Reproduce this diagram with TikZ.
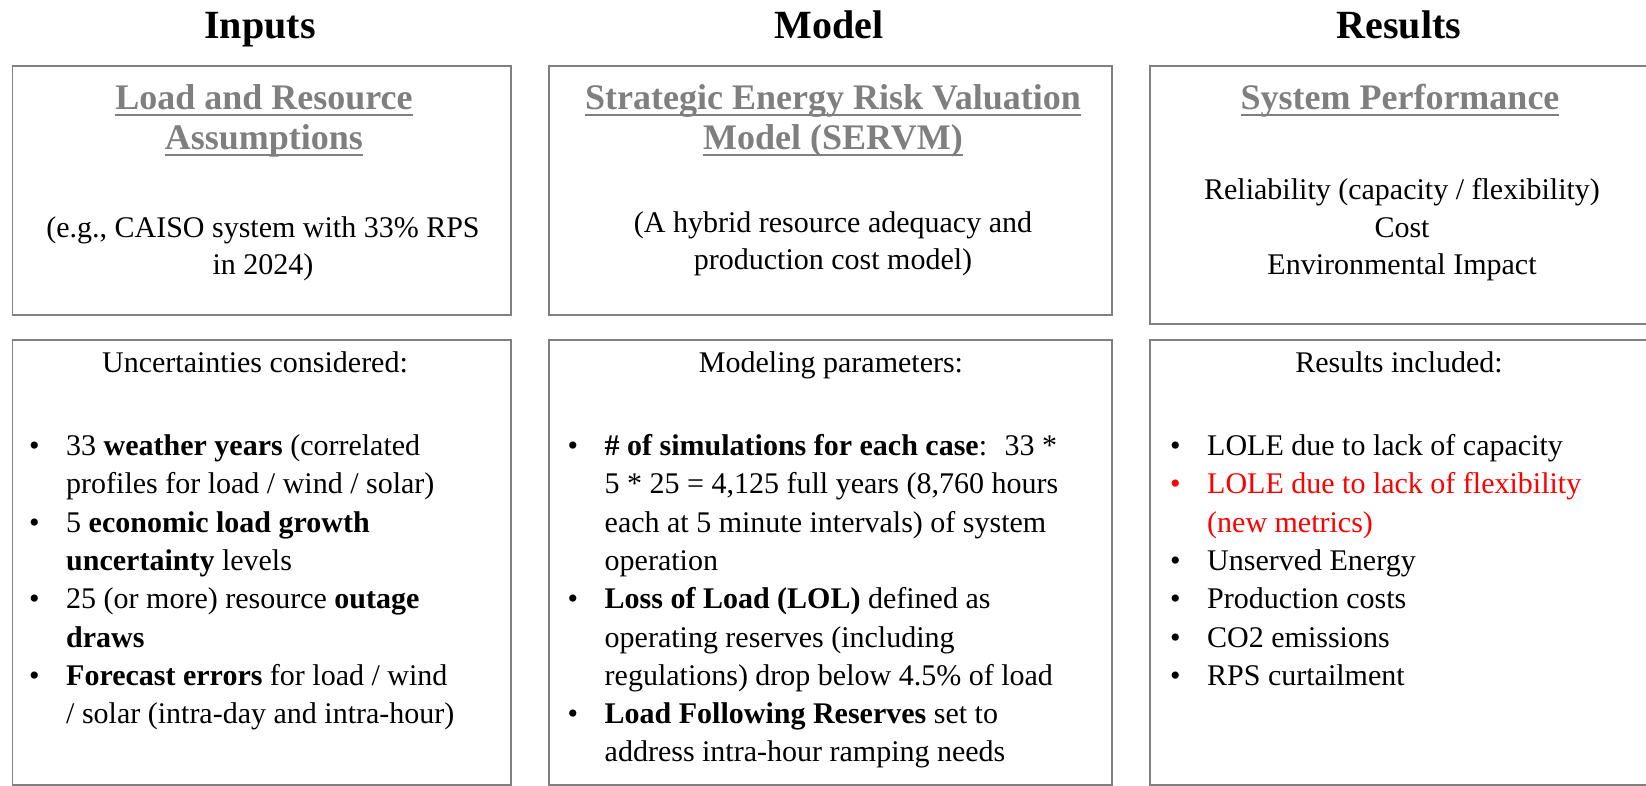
\documentclass[tikz,border=0pt]{standalone}
\usepackage{fontspec}
\setmainfont{Liberation Serif}
\usetikzlibrary{positioning}

\definecolor{titlegray}{RGB}{127,127,127}
\definecolor{framegray}{RGB}{128,128,128}

\tikzstyle{panel} = [rectangle, draw=framegray, line width=1.6pt, anchor=north west, inner sep=0pt]
\tikzstyle{heading} = [anchor=base, font=\fontsize{40}{44}\selectfont\bfseries]
\tikzstyle{boxtitle} = [anchor=base, align=center, text=titlegray, inner sep=0pt,
    font=\fontsize{36}{40}\selectfont\bfseries]
\tikzstyle{boxtext} = [anchor=base, align=center, inner sep=0pt, font=\fontsize{30}{37.5}\selectfont]
\tikzstyle{listtext} = [anchor=base west, align=left, inner sep=0pt, font=\fontsize{30}{38.3}\selectfont]

\newcommand{\bul}{\makebox[37pt][l]{\textbullet}}
\newcommand{\ind}{\hspace*{37pt}}
\newcommand{\undl}[1]{\setbox0\hbox{#1}\rlap{\rule[-6pt]{\wd0}{1.6pt}}\box0}

\begin{document}
\begin{tikzpicture}[x=1pt, y=-1pt]
	\useasboundingbox (0,0) rectangle (1646,786);

	\node [heading] (inputs) at (260,39) {Inputs};
	\node [heading] (model) at (829,39) {Model};
	\node [heading] (results) at (1399,39) {Results};

	% upper row (multi-line texts sit on their last line)
	\node [panel, minimum width=498.5pt, minimum height=249pt] (inbox) at (11.5,65) {};
	\node [panel, minimum width=563pt, minimum height=249pt] (modbox) at (548,65) {};
	\node [panel, minimum width=511pt, minimum height=258pt] (resbox) at (1149,65) {};

	\node [boxtitle] (intitle) at (264,150) {\undl{Load and Resource}\\\undl{Assumptions}};
	\node [boxtext] (inscope) at (263,275) {(e.g., CAISO system with 33\% RPS\\in 2024)};
	\node [boxtitle] (modtitle) at (833,150) {\undl{Strategic Energy Risk Valuation}\\\undl{Model (SERVM)}};
	\node [boxtext] (modscope) at (833,270) {(A hybrid resource adequacy and\\production cost model)};
	\node [boxtitle] (restitle) at (1400,110) {\undl{System Performance}};
	\node [boxtext] (resscope) at (1402,275) {Reliability (capacity / flexibility)\\Cost\\Environmental Impact};

	% lower row
	\node [panel, minimum width=498.5pt, minimum height=445pt] (uncbox) at (11.5,339) {};
	\node [panel, minimum width=563pt, minimum height=445pt] (parbox) at (548,339) {};
	\node [panel, minimum width=511pt, minimum height=445pt] (incbox) at (1149,339) {};

	\node [boxtext] (unchead) at (255,372) {Uncertainties considered:};
	\node [boxtext] (parhead) at (831,372) {Modeling parameters:};
	\node [boxtext] (inchead) at (1399,372) {Results included:};

	\node [listtext] (unclist) at (29,723.6) {\bul 33 \textbf{weather years} (correlated\\
		\ind profiles for load / wind / solar)\\
		\bul 5 \textbf{economic load growth}\\
		\ind\textbf{uncertainty} levels\\
		\bul 25 (or more) resource \textbf{outage}\\
		\ind\textbf{draws}\\
		\bul\textbf{Forecast errors} for load / wind\\
		\ind/ solar (intra-day and intra-hour)};
	\node [listtext] (parlist) at (567.5,761.9) {\bul\textbf{\# of simulations for each case}:~ 33 *\\
		\ind 5 * 25 = 4,125 full years (8,760 hours\\
		\ind each at 5 minute intervals) of system\\
		\ind operation\\
		\bul\textbf{Loss of Load (LOL)} defined as\\
		\ind operating reserves (including\\
		\ind regulations) drop below 4.5\% of load\\
		\bul\textbf{Load Following Reserves} set to\\
		\ind address intra-hour ramping needs};
	\node [listtext] (inclist) at (1170,685.3) {\bul LOLE due to lack of capacity\\
		\textcolor{red}{\bul LOLE due to lack of flexibility}\\
		\textcolor{red}{\ind(new metrics)}\\
		\bul Unserved Energy\\
		\bul Production costs\\
		\bul CO2 emissions\\
		\bul RPS curtailment};
\end{tikzpicture}
\end{document}
